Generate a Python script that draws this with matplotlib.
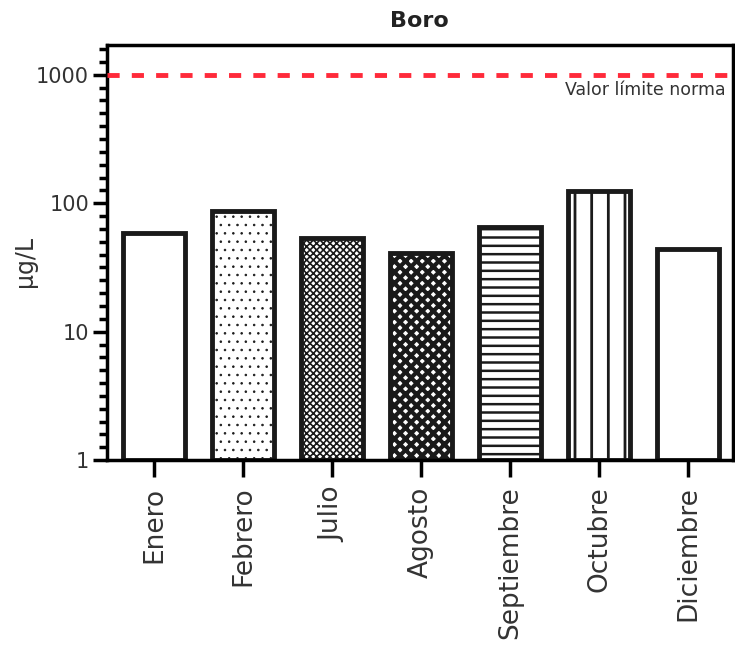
import numpy as np
import matplotlib.pyplot as plt
from matplotlib.ticker import FixedLocator, NullFormatter

plt.rcParams['font.family'] = ['DejaVu Sans']

meses = ["Enero", "Febrero", "Julio", "Agosto", "Septiembre", "Octubre", "Diciembre"]
boro = [59, 87, 54, 41, 65, 124, 44]
hatches = ["", "..", "xxxxx", "xxx", "--", "|", ""]
hatch_lw = [1, 0.6, 1.2, 3.0, 1.8, 2.0, 1]
limite = 1000

fig = plt.figure(figsize=(7.35, 6.64), dpi=100)
ax = fig.add_axes([0.1456, 0.307, 0.851, 0.625])

x = np.arange(len(meses))
for i in range(len(meses)):
    with plt.rc_context({"hatch.linewidth": hatch_lw[i]}):
        ax.bar(x[i], boro[i] - 1, width=0.7, bottom=1, color="white",
               edgecolor="#1a1a1a", linewidth=3.5, hatch=hatches[i], zorder=2)

ax.axhline(limite, color="#ff2a3a", linestyle=(0, (2.5, 2.5)), linewidth=3.5, zorder=3)
ax.text(6.42, limite * 0.9, "Valor límite norma", ha="right", va="top",
        fontsize=12.5, color="#333333")

ax.set_yscale("log")
ax.set_ylim(1, 1700)
ax.set_xlim(-0.53, 6.5)
ax.yaxis.set_major_locator(FixedLocator([1, 10, 100, 1000]))
ax.set_yticklabels(["1", "10", "100", "1000"], fontsize=15, color="#333333")
menores = [10 ** (k + j / 10) for k in range(4) for j in range(1, 10)]
ax.yaxis.set_minor_locator(FixedLocator(menores))
ax.yaxis.set_minor_formatter(NullFormatter())
ax.tick_params(axis="y", which="major", length=10, width=2.5, pad=3)
ax.tick_params(axis="y", which="minor", length=6, width=2.5)
ax.set_xticks(x)
ax.set_xticklabels(meses, rotation=90, fontsize=19, color="#333333")
ax.tick_params(axis="x", length=12, width=2.5, pad=7)
ax.set_ylabel("µg/L", fontsize=17, color="#333333")
ax.yaxis.set_label_coords(-0.112, 0.48)
ax.set_title("Boro", fontsize=16, fontweight="bold", pad=13, color="#222222")
for s in ax.spines.values():
    s.set_linewidth(2.5)

fig.savefig("out.png", dpi=100)
